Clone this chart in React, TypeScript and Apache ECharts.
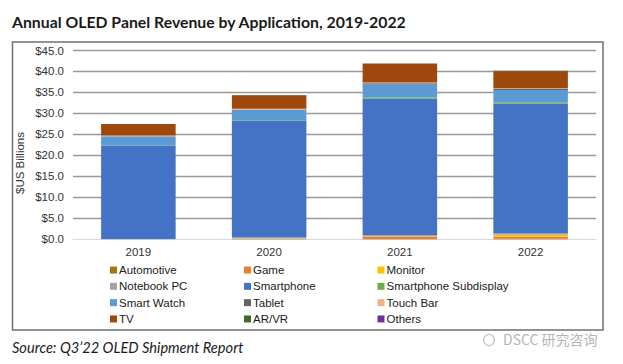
import React, { useEffect, useRef } from "react";
import * as echarts from "echarts";

const years = ["2019", "2020", "2021", "2022"];
const yTicks = [0, 5, 10, 15, 20, 25, 30, 35, 40, 45];
const automotive = [0, 0.05, 0.05, 0.15];
const game = [0, 0.1, 0.5, 0.45];
const monitor = [0, 0.05, 0.1, 0.5];
const notebookPC = [0.05, 0.2, 0.4, 0.3];
const smartphone = [22.3, 27.9, 32.5, 30.95];
const smartphoneSubdisplay = [0.05, 0.15, 0.3, 0.3];
const smartWatch = [2.1, 2.35, 3.05, 2.95];
const tablet = [0.05, 0.1, 0.3, 0.3];
const touchBar = [0.2, 0.2, 0.15, 0.1];
const tv = [2.75, 3.25, 4.45, 4.05];
const arvr = [0, 0.05, 0.1, 0.15];
const others = [0, 0, 0, 0];

const seriesDefs = [
  { name: "Automotive", data: automotive, color: "#9C7A0C" },
  { name: "Game", data: game, color: "#ED7D31" },
  { name: "Monitor", data: monitor, color: "#FFC000" },
  { name: "Notebook PC", data: notebookPC, color: "#A5A5A5" },
  { name: "Smartphone", data: smartphone, color: "#4472C4" },
  { name: "Smartphone Subdisplay", data: smartphoneSubdisplay, color: "#70AD47" },
  { name: "Smart Watch", data: smartWatch, color: "#5B9BD5" },
  { name: "Tablet", data: tablet, color: "#636363" },
  { name: "Touch Bar", data: touchBar, color: "#F4B183" },
  { name: "TV", data: tv, color: "#9E480E" },
  { name: "AR/VR", data: arvr, color: "#43682B" },
  { name: "Others", data: others, color: "#7030A0" },
];

const legendCols = [
  ["Automotive", "Notebook PC", "Smart Watch", "TV"],
  ["Game", "Smartphone", "Tablet", "AR/VR"],
  ["Monitor", "Smartphone Subdisplay", "Touch Bar", "Others"],
];
const legendX = [110, 244, 377.5];

export default function App() {
  const ref = useRef<HTMLDivElement>(null);
  useEffect(() => {
    document.body.style.margin = "0";
    const chart = echarts.init(ref.current!, null, { renderer: "svg" });
    const font = "Liberation Sans, Arial, sans-serif";
    chart.setOption({
      animation: false,
      backgroundColor: "#ffffff",
      grid: { left: 73, right: 27, top: 50.5, bottom: 124.7, containLabel: false },
      xAxis: {
        type: "category",
        data: years,
        axisLine: { show: true, lineStyle: { color: "#d9d9d9", width: 1 } },
        axisTick: { show: false },
        axisLabel: { color: "#333", fontSize: 11.5, fontFamily: font, margin: 7 },
      },
      yAxis: {
        type: "value",
        min: 0,
        max: 45,
        interval: 5,
        axisLine: { show: false },
        axisTick: { show: false },
        splitLine: { show: true, showMinLine: false, lineStyle: { color: "#999999", width: 1.3 } },
        axisLabel: {
          color: "#333",
          fontSize: 11.5,
          fontFamily: font,
          margin: 9,
          formatter: (v: number) => (yTicks.includes(v) ? "$" + v.toFixed(1) : ""),
        },
      },
      legend: legendCols.map((col, i) => ({
        orient: "vertical",
        left: legendX[i],
        top: 263.9,
        padding: 0,
        itemWidth: 7,
        itemHeight: 7,
        itemGap: 4,
        icon: "rect",
        selectedMode: false,
        textStyle: { fontSize: 11.5, fontFamily: font, color: "#1a1a1a", lineHeight: 12.3, padding: [0, 0, 0, -3] },
        data: col,
      })),
      series: seriesDefs.map((s) => ({
        name: s.name,
        type: "bar",
        stack: "total",
        data: s.data,
        barWidth: "57%",
        itemStyle: { color: s.color },
        emphasis: { disabled: true },
      })),
      graphic: [
        {
          type: "rect",
          shape: { x: 12.5, y: 42, width: 590.5, height: 288 },
          style: { fill: "none", stroke: "#707070", lineWidth: 1.5 },
          silent: true,
        },
        {
          type: "text",
          left: 12,
          top: 13,
          style: {
            text: "Annual OLED Panel Revenue by Application, 2019-2022",
            font: "bold 15.8px Lato, 'Open Sans', sans-serif",
            fill: "#1a1a1a",
          },
        },
        {
          type: "text",
          x: 20,
          y: 163,
          rotation: Math.PI / 2,
          style: {
            text: "$US Billions",
            font: "11.5px 'Liberation Sans', Arial, sans-serif",
            fill: "#333",
            align: "center",
            verticalAlign: "middle",
          },
        },
        {
          type: "text",
          left: 12,
          top: 340,
          style: {
            text: "Source: Q3\u201922 OLED Shipment Report",
            font: "italic 14.6px Lato, 'Open Sans', sans-serif",
            fill: "#1a1a1a",
          },
        },
        {
          type: "circle",
          shape: { cx: 489, cy: 340, r: 5.5 },
          style: { fill: "none", stroke: "#c4c4c4", lineWidth: 1.2 },
          silent: true,
        },
        {
          type: "text",
          left: 503,
          top: 332,
          style: {
            text: "DSCC 研究咨询",
            font: "14px 'Noto Sans CJK SC', sans-serif",
            fill: "#b5b5b5",
          },
        },
      ],
    });
    return () => chart.dispose();
  }, []);
  return (
    <div
      ref={ref}
      style={{ width: 623, height: 364, position: "absolute", left: 0, top: 0 }}
    />
  );
}
